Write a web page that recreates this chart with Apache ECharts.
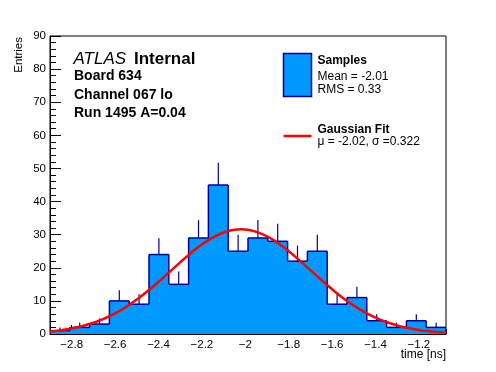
<!DOCTYPE html>
<html><head><meta charset="utf-8">
<script src="https://cdn.jsdelivr.net/npm/echarts@6/dist/echarts.min.js"></script>
<style>html,body{margin:0;padding:0;background:#fff}#c{width:496px;height:372px}</style>
</head><body><div id="c"></div>
<script>
// ---- data ----
const binStart = -2.9;
const binWidth = 0.09125;
const counts = [1, 2, 3, 10, 9, 24, 15, 29, 45, 25, 29, 28, 22, 25, 9, 11, 4, 2, 4, 2];
const errors = [1, 1.4, 1.7, 3.2, 3, 4.9, 3.9, 5.4, 6.7, 5, 5.4, 5.3, 4.7, 5, 3, 3.3, 2, 1.4, 2, 1.4];
const fitX = [-2.9, -2.85, -2.8, -2.75, -2.7, -2.65, -2.6, -2.55, -2.5, -2.45, -2.4, -2.35, -2.3, -2.25, -2.2, -2.15, -2.1, -2.05, -2.02, -2.0, -1.95, -1.9, -1.85, -1.8, -1.75, -1.7, -1.65, -1.6, -1.55, -1.5, -1.45, -1.4, -1.35, -1.3, -1.25, -1.2, -1.15, -1.1, -1.075];
const fitY = [0.76, 1.14, 1.68, 2.42, 3.4, 4.66, 6.24, 8.16, 10.4, 12.96, 15.75, 18.69, 21.65, 24.48, 27.03, 29.13, 30.64, 31.46, 31.6, 31.54, 30.86, 29.48, 27.49, 25.02, 22.23, 19.29, 16.33, 13.5, 10.89, 8.58, 6.6, 4.95, 3.63, 2.59, 1.81, 1.23, 0.82, 0.53, 0.43];
const xTickLabels = [-2.8, -2.6, -2.4, -2.2, -2.0, -1.8, -1.6, -1.4, -1.2];
const yTickLabels = [0, 10, 20, 30, 40, 50, 60, 70, 80, 90];
const atlasLines = ['Board 634', 'Channel 067 lo', 'Run 1495 A=0.04'];
const legendSamples = ['Samples', 'Mean = -2.01', 'RMS = 0.33'];
const legendFit = ['Gaussian Fit', 'μ = -2.02, σ =0.322'];
const xTitle = 'time [ns]';
const yTitle = 'Entries';

// ---- styles ----
const FONT = '"Liberation Sans", Arial, Helvetica, sans-serif';
const FILL = '#0099ff';
const NAVY = '#000099';

const histData = counts.map((c, i) => [binStart + i * binWidth, binStart + (i + 1) * binWidth, c, errors[i]]);

function renderHist(params, api) {
  const i = params.dataIndex;
  const x0 = api.value(0), x1 = api.value(1), c = api.value(2), e = api.value(3);
  const p0 = api.coord([x0, c]), p1 = api.coord([x1, c]);
  const children = [];
  if (i === 0) {
    const pts = [api.coord([histData[0][0], 0])];
    histData.forEach(d => { pts.push(api.coord([d[0], d[2]])); pts.push(api.coord([d[1], d[2]])); });
    pts.push(api.coord([histData[histData.length - 1][1], 0]));
    children.push({type: 'polygon', z2: 0, shape: {points: pts}, style: {fill: FILL, stroke: null}});
  }
  const prev = i === 0 ? 0 : histData[i - 1][2];
  const py = api.coord([x0, prev])[1];
  const ls = {stroke: NAVY, lineWidth: 1.5};
  children.push({type: 'line', z2: 2, shape: {x1: p0[0], y1: py, x2: p0[0], y2: p0[1]}, style: ls});
  children.push({type: 'line', z2: 2, shape: {x1: p0[0], y1: p0[1], x2: p1[0], y2: p1[1]}, style: ls});
  if (i === histData.length - 1) {
    const b = api.coord([x1, 0]);
    children.push({type: 'line', z2: 2, shape: {x1: p1[0], y1: p1[1], x2: b[0], y2: b[1]}, style: ls});
  }
  const pe = api.coord([(x0 + x1) / 2, c + e]);
  children.push({type: 'line', z2: 2, shape: {x1: pe[0], y1: p0[1], x2: pe[0], y2: pe[1]}, style: {stroke: NAVY, lineWidth: 1.2}});
  return {type: 'group', children};
}

function txt(x, y, text, font, extra) {
  return Object.assign({
    type: 'text', x: x, y: y, silent: true,
    style: {text: text, font: font, fill: '#000', align: 'left', verticalAlign: 'middle', textAlign: 'left', textVerticalAlign: 'middle'}
  }, extra || {});
}

const chart = echarts.init(document.getElementById('c'), null, {renderer: 'canvas'});
const minus = v => String(v).replace('-', '\u2212');

chart.setOption({
  animation: false,
  backgroundColor: '#fff',
  grid: {left: 50, top: 36, width: 396, height: 298, show: true, borderColor: '#000', borderWidth: 1, backgroundColor: 'transparent'},
  xAxis: [{
    type: 'value', min: -2.9, max: -1.075, interval: 0.05,
    axisLine: {show: true, onZero: false, lineStyle: {color: '#000', width: 1}},
    axisTick: {show: true, inside: true, length: 5, lineStyle: {color: '#000'}},
    axisLabel: {show: false},
    splitLine: {show: false}
  }, {
    type: 'value', min: -2.9, max: -1.075, position: 'bottom',
    axisLine: {show: false},
    axisTick: {show: true, inside: true, length: 9, customValues: xTickLabels, lineStyle: {color: '#000'}},
    axisLabel: {show: true, customValues: xTickLabels, margin: 5, color: '#000', fontSize: 11.5, fontFamily: FONT, formatter: v => minus(v)},
    splitLine: {show: false}
  }],
  yAxis: {
    type: 'value', min: yTickLabels[0], max: yTickLabels[yTickLabels.length - 1], interval: 10,
    axisLine: {show: true, onZero: false, lineStyle: {color: '#000', width: 1}},
    axisTick: {show: true, inside: true, length: 11, lineStyle: {color: '#000'}},
    minorTick: {show: true, splitNumber: 5, length: 6, lineStyle: {color: '#000'}},
    axisLabel: {margin: 4, color: '#000', fontSize: 11.5, fontFamily: FONT},
    splitLine: {show: false}
  },
  series: [{
    type: 'custom', name: 'Samples', xAxisIndex: 0, yAxisIndex: 0,
    renderItem: renderHist, data: histData, clip: true, z: 2
  }, {
    type: 'line', name: 'Gaussian Fit', xAxisIndex: 0, yAxisIndex: 0,
    data: fitX.map((x, i) => [x, fitY[i]]), smooth: true, symbol: 'none', clip: true, z: 5,
    lineStyle: {color: '#ff0000', width: 2.5}
  }],
  graphic: [
    txt(73.5, 59, 'ATLAS', 'italic 17px ' + FONT),
    txt(134, 59, 'Internal', 'bold 17px ' + FONT),
    txt(74, 76.5, atlasLines[0], 'bold 14px ' + FONT),
    txt(74, 95, atlasLines[1], 'bold 14px ' + FONT),
    txt(74, 113.5, atlasLines[2], 'bold 14px ' + FONT),
    {type: 'rect', silent: true, shape: {x: 283.5, y: 53.5, width: 28, height: 43}, style: {fill: FILL, stroke: NAVY, lineWidth: 1.5}},
    txt(317.5, 61, legendSamples[0], 'bold 12px ' + FONT),
    txt(317.5, 76.5, legendSamples[1], '12px ' + FONT),
    txt(317.5, 89.5, legendSamples[2], '12px ' + FONT),
    {type: 'line', silent: true, shape: {x1: 283.5, y1: 136, x2: 311.5, y2: 136}, style: {stroke: '#ff0000', lineWidth: 2.5}},
    txt(317.5, 130, legendFit[0], 'bold 12px ' + FONT),
    txt(317.5, 141.5, legendFit[1], '12px ' + FONT),
    txt(446, 355, xTitle, '12px ' + FONT, {style: {text: xTitle, font: '12px ' + FONT, fill: '#000', align: 'right', verticalAlign: 'middle', textAlign: 'right', textVerticalAlign: 'middle'}}),
    {type: 'text', silent: true, x: 18.5, y: 37, rotation: Math.PI / 2,
     style: {text: yTitle, font: '11.5px ' + FONT, fill: '#000', align: 'right', verticalAlign: 'middle', textAlign: 'right', textVerticalAlign: 'middle'}}
  ]
});
</script>
</body></html>
